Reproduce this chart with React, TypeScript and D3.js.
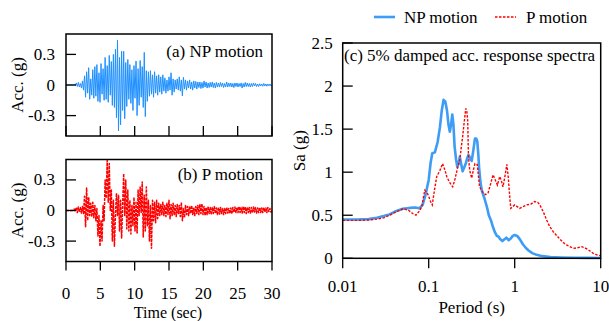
import React from 'react';
import * as d3 from 'd3';

// sampling step of the acceleration records (s)
const DT = 0.15;

// NP motion acceleration (g)
const npAcc = [
  0, 0, 0, 0, 0, 0, 0, 0, 0.005, -0.005,
  0.02, -0.015, 0.025, -0.02, 0.015, -0.03, 0.04, -0.05, 0.09, -0.12,
  0.13, -0.08, 0.17, -0.14, 0.06, -0.1, 0.15, -0.13, 0.18, -0.11,
  0.2, -0.16, 0.12, -0.17, 0.21, -0.09, 0.16, -0.15, 0.27, -0.14,
  0.19, -0.17, 0.29, -0.1, 0.23, -0.2, 0.3, -0.22, 0.35, -0.32,
  0.44, -0.45, 0.27, -0.39, 0.33, -0.25, 0.33, -0.33, 0.22, -0.21,
  0.25, -0.14, 0.2, -0.18, 0.15, -0.25, 0.19, -0.13, 0.235, -0.3,
  0.16, -0.2, 0.24, -0.12, 0.18, -0.22, 0.32, -0.31, 0.14, -0.16,
  0.13, -0.11, 0.14, -0.09, 0.1, -0.12, 0.13, -0.08, 0.09, -0.1,
  0.1, -0.07, 0.08, -0.09, 0.1, -0.06, 0.07, -0.08, 0.05, -0.06,
  0.08, -0.05, 0.12, -0.1, 0.06, -0.07, 0.05, -0.04, 0.06, -0.05,
  0.08, -0.06, 0.05, -0.107, 0.075, -0.04, 0.05, -0.05, 0.04, -0.03,
  0.05, -0.04, 0.03, -0.05, 0.04, -0.03, 0.035, -0.04, 0.03, -0.025,
  0.03, -0.035, 0.025, -0.03, 0.04, -0.02, 0.03, -0.03, 0.02, -0.025,
  0.025, -0.02, 0.03, -0.025, 0.02, -0.03, 0.025, -0.02, 0.02, -0.02,
  0.025, -0.015, 0.02, -0.025, 0.015, -0.02, 0.03, -0.02, 0.02, -0.015,
  0.02, -0.02, 0.015, -0.025, 0.02, -0.015, 0.02, -0.02, 0.015, -0.015,
  0.02, -0.03, 0.015, -0.02, 0.025, -0.015, 0.02, -0.015, 0.015, -0.02,
  0.015, -0.015, 0.02, -0.01, 0.015, -0.015, 0.01, -0.015, 0.012, -0.01,
  0.01, -0.012, 0.015, -0.01, 0.01, -0.012, 0.01, -0.008, 0.01, -0.01,
  0,
];

// P motion acceleration (g)
const pAcc = [
  0, 0, 0, 0, 0, 0, 0, 0.005, 0.015, -0.01,
  0.03, -0.02, 0.035, -0.015, 0.03, -0.025, 0.04, -0.03, 0.14, -0.16,
  0.22, -0.1, 0.13, -0.05, 0.07, -0.06, 0.08, -0.07, 0.05, -0.1,
  0.02, -0.25, -0.05, -0.35, -0.1, -0.3, 0.05, -0.1, 0.3, 0.12,
  0.49, 0.08, 0.46, 0.0, 0.2, -0.3, 0.1, -0.35, -0.05, 0.17,
  -0.05, 0.15, -0.2, 0.1, -0.27, 0.05, 0.36, -0.05, 0.3, -0.18,
  0.2, -0.2, 0.1, -0.23, 0.05, -0.15, 0.13, -0.2, 0.08, -0.22,
  0.2, -0.05, 0.23, -0.02, 0.28, -0.26, 0.15, -0.2, 0.23, -0.15,
  0.1, -0.3, 0.05, -0.37, 0.1, -0.1, 0.08, -0.12, 0.1, -0.08,
  0.07, -0.05, 0.06, -0.04, 0.08, -0.05, 0.05, -0.06, 0.07, -0.04,
  0.1, -0.08, 0.06, -0.05, 0.07, -0.04, 0.05, -0.06, 0.06, -0.03,
  0.05, -0.06, 0.08, -0.1, 0.02, -0.07, 0.05, -0.04, 0.04, -0.05,
  0.04, -0.03, 0.05, -0.04, 0.03, -0.05, 0.04, -0.03, 0.05, -0.04,
  0.06, -0.03, 0.065, -0.04, 0.04, -0.05, 0.03, -0.04, 0.04, -0.03,
  0.03, -0.04, 0.03, -0.03, 0.04, -0.03, 0.025, -0.04, 0.03, -0.035,
  0.03, -0.03, 0.02, -0.04, 0.02, -0.03, 0.03, -0.025, 0.02, -0.03,
  0.025, -0.035, 0.03, -0.02, 0.035, -0.02, 0.03, -0.02, 0.04, -0.02,
  0.03, -0.025, 0.04, -0.02, 0.035, -0.03, 0.03, -0.02, 0.03, -0.025,
  0.03, -0.02, 0.035, -0.015, 0.03, -0.025, 0.025, -0.02, 0.03, -0.02,
  0.025, -0.02, 0.03, -0.015, 0.025, -0.02, 0.03, -0.01, 0.02, -0.015,
  0,
];

// Response spectra: NP motion
const npPeriod = [0.01, 0.015, 0.02, 0.025, 0.03, 0.035, 0.04, 0.05, 0.06, 0.07, 0.078, 0.085, 0.092, 0.1, 0.105, 0.11, 0.118, 0.127, 0.135, 0.142, 0.149, 0.156, 0.163, 0.17, 0.176, 0.182, 0.188, 0.194, 0.2, 0.208, 0.215, 0.223, 0.23, 0.24, 0.248, 0.26, 0.27, 0.28, 0.29, 0.305, 0.316, 0.33, 0.345, 0.357, 0.367, 0.378, 0.385, 0.4, 0.414, 0.43, 0.45, 0.48, 0.5, 0.53, 0.56, 0.59, 0.62, 0.65, 0.68, 0.72, 0.76, 0.8, 0.85, 0.9, 0.95, 1.0, 1.07, 1.15, 1.25, 1.35, 1.45, 1.6, 1.8, 2.1, 2.6, 3.5, 5, 7, 10];
const npSa = [0.45, 0.45, 0.455, 0.47, 0.49, 0.51, 0.54, 0.575, 0.585, 0.59, 0.58, 0.62, 0.74, 0.91, 1.1, 1.22, 1.23, 1.35, 1.52, 1.72, 1.84, 1.82, 1.72, 1.55, 1.47, 1.55, 1.67, 1.55, 1.3, 1.15, 1.06, 1.1, 1.18, 1.08, 1.01, 1.06, 1.1, 1.16, 1.2, 1.16, 1.13, 1.25, 1.39, 1.39, 1.36, 1.2, 1.06, 0.88, 0.79, 0.74, 0.68, 0.58, 0.5, 0.44, 0.36, 0.3, 0.26, 0.25, 0.22, 0.2, 0.22, 0.24, 0.21, 0.23, 0.26, 0.27, 0.26, 0.22, 0.16, 0.12, 0.09, 0.06, 0.04, 0.025, 0.015, 0.01, 0.007, 0.005, 0.004];

// Response spectra: P motion
const pPeriod = [0.01, 0.015, 0.02, 0.025, 0.03, 0.035, 0.04, 0.05, 0.058, 0.065, 0.071, 0.078, 0.083, 0.09, 0.096, 0.1, 0.105, 0.11, 0.117, 0.124, 0.135, 0.145, 0.155, 0.162, 0.175, 0.19, 0.2, 0.21, 0.22, 0.23, 0.24, 0.248, 0.26, 0.27, 0.278, 0.284, 0.29, 0.3, 0.316, 0.33, 0.345, 0.367, 0.39, 0.43, 0.46, 0.49, 0.53, 0.56, 0.6, 0.63, 0.67, 0.7, 0.73, 0.77, 0.81, 0.84, 0.87, 0.9, 0.95, 1.0, 1.07, 1.14, 1.25, 1.38, 1.55, 1.7, 1.85, 1.96, 2.15, 2.35, 2.55, 2.8, 3.1, 3.37, 3.7, 4.0, 4.5, 4.97, 5.5, 5.97, 6.4, 6.9, 7.5, 8.2, 9, 10];
const pSa = [0.44, 0.44, 0.445, 0.455, 0.47, 0.5, 0.53, 0.575, 0.56, 0.52, 0.5, 0.55, 0.6, 0.79, 0.76, 0.72, 0.66, 0.62, 0.8, 0.95, 1.02, 1.1, 1.02, 0.95, 0.88, 0.83, 0.9, 0.99, 1.08, 1.14, 1.3, 1.41, 1.6, 1.74, 1.7, 1.6, 1.18, 1.02, 0.93, 1.02, 1.1, 1.09, 0.83, 0.76, 0.74, 0.76, 0.88, 0.97, 0.9, 0.85, 0.95, 0.9, 0.83, 0.95, 1.09, 0.95, 0.75, 0.58, 0.6, 0.62, 0.6, 0.58, 0.6, 0.62, 0.63, 0.66, 0.65, 0.62, 0.54, 0.445, 0.37, 0.31, 0.26, 0.22, 0.18, 0.155, 0.13, 0.116, 0.125, 0.135, 0.125, 0.11, 0.085, 0.058, 0.04, 0.03];

const timeTicks = [0, 5, 10, 15, 20, 25, 30];
const accTicks = [-0.3, 0, 0.3];
const accTickLabels = ['-0.3', '0', '0.3'];
const periodTicks = [0.01, 0.1, 1, 10];
const periodTickLabels = ['0.01', '0.1', '1', '10'];
const saTicks = [0, 0.5, 1, 1.5, 2, 2.5];
const saTickLabels = ['0', '0.5', '1', '1.5', '2', '2.5'];

const FONT = '"Liberation Serif", "Times New Roman", serif';
const FS = 17;
const NP_COLOR = '#1e90ff';
const NP_SPEC_COLOR = '#3d9cf5';
const P_COLOR = '#ff0000';

type AccPanelProps = {
  data: number[];
  top: number;
  bottom: number;
  color: string;
  dash?: string;
  width: number;
  label: string;
  labelY: number;
  showXLabels: boolean;
};

function AccPanel({ data, top, bottom, color, dash, width, label, labelY, showXLabels }: AccPanelProps) {
  const left = 66;
  const right = 272;
  const x = d3.scaleLinear().domain([0, 30]).range([left, right]);
  const y = d3.scaleLinear().domain([-0.5, 0.5]).range([bottom, top]);
  const line = d3
    .line<number>()
    .x((_, i) => x(i * DT))
    .y((d) => y(d));
  const tickLen = 10;
  return (
    <g>
      <path d={line(data) || ''} fill="none" stroke={color} strokeWidth={width} strokeDasharray={dash} strokeLinejoin="round" />
      {accTicks.map((t, i) => (
        <g key={'y' + i}>
          <line x1={left} x2={left + tickLen} y1={y(t)} y2={y(t)} stroke="#000" strokeWidth={1.3} />
          <text x={left - 11} y={y(t) + 5.5} textAnchor="end" fontSize={FS} fontFamily={FONT}>
            {accTickLabels[i]}
          </text>
        </g>
      ))}
      {timeTicks.map((t, i) =>
        showXLabels ? (
          <g key={'x' + i}>
            <line x1={x(t)} x2={x(t)} y1={bottom} y2={bottom + 9} stroke="#000" strokeWidth={1.3} />
            <text x={x(t)} y={bottom + 37.5} textAnchor="middle" fontSize={FS} fontFamily={FONT}>
              {String(t)}
            </text>
          </g>
        ) : (
          <line key={'x' + i} x1={x(t)} x2={x(t)} y1={bottom} y2={bottom - tickLen} stroke="#000" strokeWidth={1.3} />
        )
      )}
      <rect x={left} y={top} width={right - left} height={bottom - top} fill="none" stroke="#000" strokeWidth={1.5} />
      <text x={263} y={labelY} textAnchor="end" fontSize={FS} fontFamily={FONT}>
        {label}
      </text>
      <text
        transform={`translate(23,${(top + bottom) / 2}) rotate(-90)`}
        textAnchor="middle"
        fontSize={FS}
        fontFamily={FONT}
      >
        Acc. (g)
      </text>
    </g>
  );
}

function SpectraPanel() {
  const left = 342.7;
  const right = 600.7;
  const top = 43;
  const bottom = 258.3;
  const x = d3.scaleLog().domain([0.01, 10]).range([left, right]);
  const y = d3.scaleLinear().domain([0, 2.5]).range([bottom, top]);
  const mk = (per: number[], sa: number[]) =>
    d3
      .line<number>()
      .x((_, i) => x(per[i]))
      .y((d) => y(d))(sa) || '';
  return (
    <g>
      <path d={mk(npPeriod, npSa)} fill="none" stroke={NP_SPEC_COLOR} strokeWidth={2.6} strokeLinejoin="round" />
      <path d={mk(pPeriod, pSa)} fill="none" stroke={P_COLOR} strokeWidth={1.4} strokeDasharray="2.5,1.5" />
      {saTicks.map((t, i) => (
        <g key={'y' + i}>
          <line x1={left} x2={left + 10} y1={y(t)} y2={y(t)} stroke="#000" strokeWidth={1.3} />
          <text x={left - 10} y={y(t) + 5.5} textAnchor="end" fontSize={FS} fontFamily={FONT}>
            {saTickLabels[i]}
          </text>
        </g>
      ))}
      {periodTicks.map((t, i) => (
        <g key={'x' + i}>
          <line x1={x(t)} x2={x(t)} y1={bottom} y2={bottom + 10} stroke="#000" strokeWidth={1.3} />
          <text x={x(t)} y={bottom + 34} textAnchor="middle" fontSize={FS} fontFamily={FONT}>
            {periodTickLabels[i]}
          </text>
        </g>
      ))}
      <rect x={left} y={top} width={right - left} height={bottom - top} fill="none" stroke="#000" strokeWidth={1.5} />
      <text x={344} y={61} fontSize={FS} fontFamily={FONT}>
        (c) 5% damped acc. response spectra
      </text>
      <text x={(left + right) / 2} y={313} textAnchor="middle" fontSize={FS} fontFamily={FONT}>
        Period (s)
      </text>
      <text transform={`translate(305,${(top + bottom) / 2}) rotate(-90)`} textAnchor="middle" fontSize={FS} fontFamily={FONT}>
        Sa (g)
      </text>
      {/* legend */}
      <line x1={374} x2={395} y1={17} y2={17} stroke={NP_SPEC_COLOR} strokeWidth={2.6} />
      <text x={404} y={23} fontSize={FS} fontFamily={FONT}>
        NP motion
      </text>
      <line x1={495} x2={516} y1={17} y2={17} stroke={P_COLOR} strokeWidth={1.4} strokeDasharray="2.5,1.5" />
      <text x={526} y={23} fontSize={FS} fontFamily={FONT}>
        P motion
      </text>
    </g>
  );
}

export default function App() {
  return (
    <svg
      width={609}
      height={321}
      viewBox="0 0 609 321"
      style={{ position: 'absolute', left: 0, top: 0, background: '#fff' }}
    >
      <rect x={0} y={0} width={609} height={321} fill="#fff" />
      <AccPanel data={npAcc} top={34} bottom={136} color={NP_COLOR} width={1} label="(a) NP motion" labelY={57} showXLabels={false} />
      <AccPanel data={pAcc} top={159.5} bottom={261.5} color={P_COLOR} dash="3,1" width={1.5} label="(b) P motion" labelY={180} showXLabels={true} />
      <text x={168} y={317.5} textAnchor="middle" fontSize={16} fontFamily={FONT}>
        Time (sec)
      </text>
      <SpectraPanel />
    </svg>
  );
}
